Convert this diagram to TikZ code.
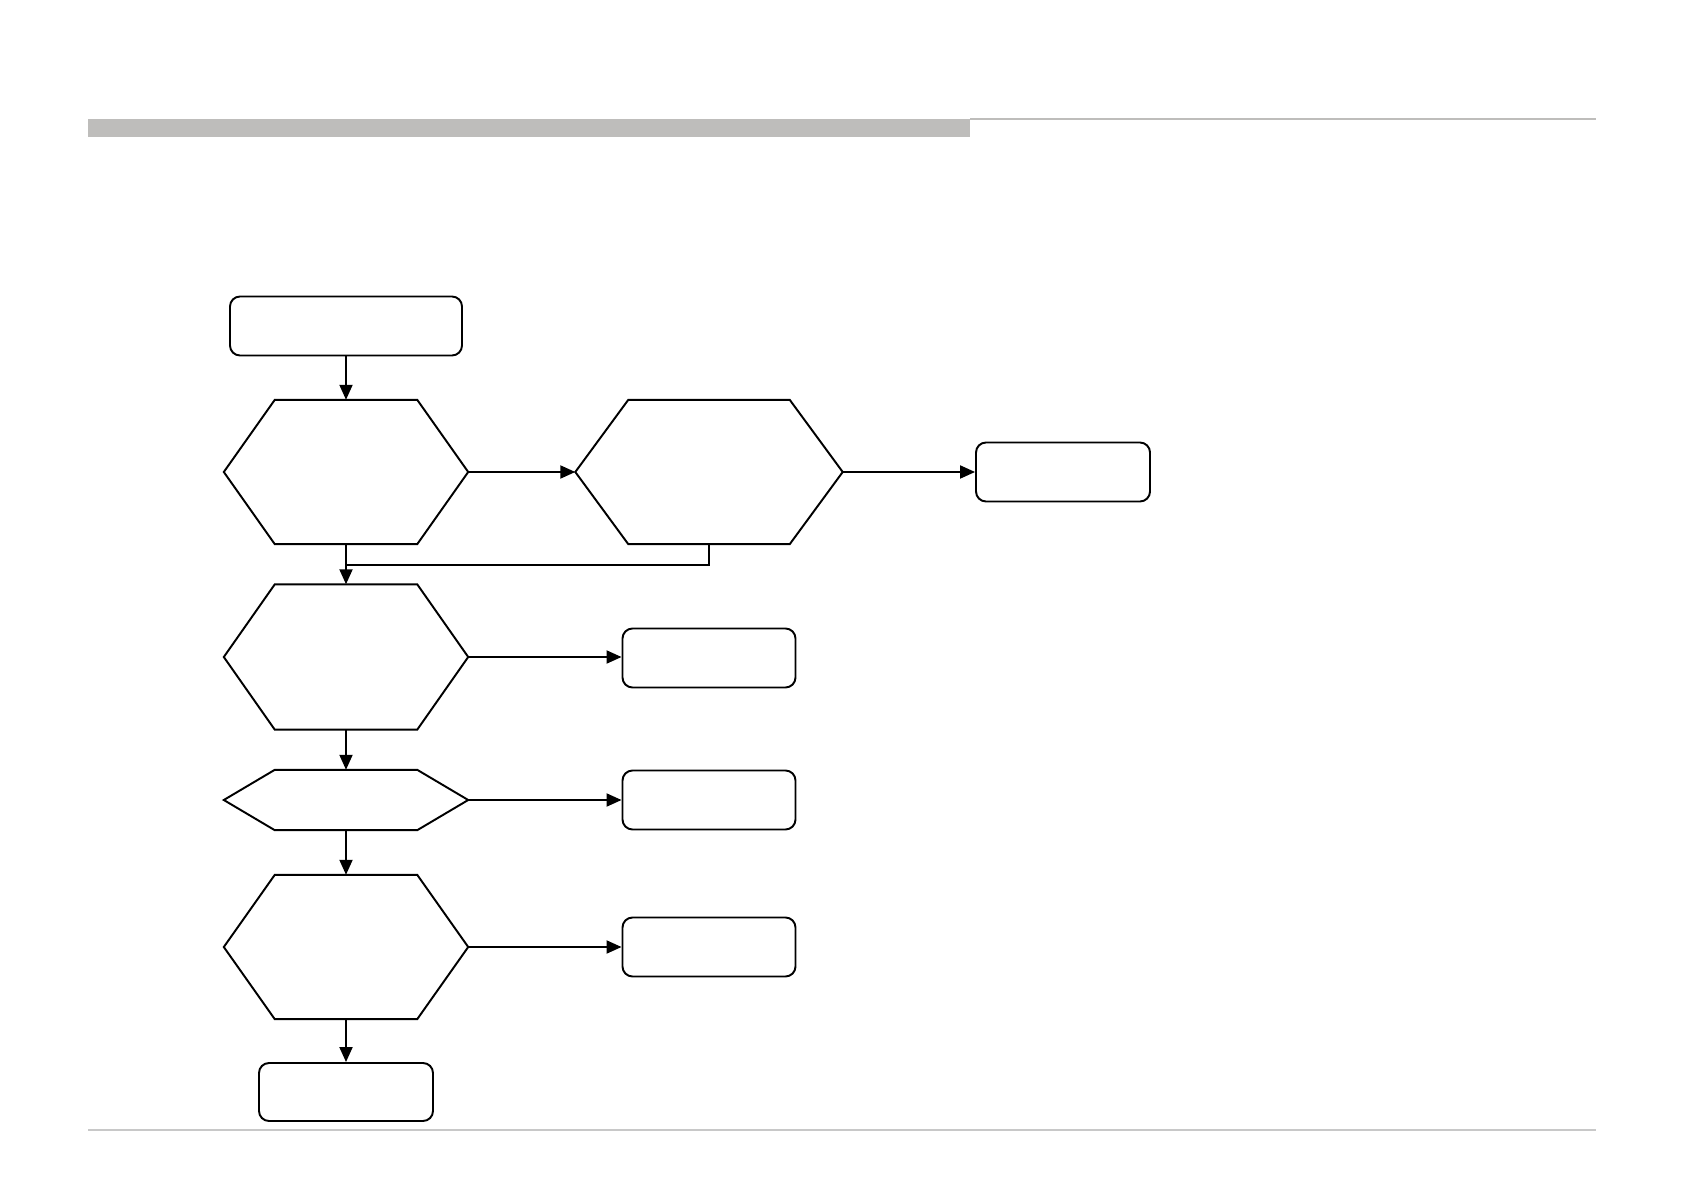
\documentclass[tikz,border=0pt]{standalone}
\usepackage{xcolor}
\usetikzlibrary{arrows.meta,positioning,calc}
\definecolor{bargray}{RGB}{190,189,187}
\definecolor{rulegray}{RGB}{200,200,200}

% outline of a hexagon round a node with no border
\newcommand{\hexout}[2][0.51]{%
  \draw[flowline] ([xshift=#1cm]#2.north west) -- ([xshift=-#1cm]#2.north east)
    -- (#2.east) -- ([xshift=-#1cm]#2.south east)
    -- ([xshift=#1cm]#2.south west) -- (#2.west) -- cycle;}

\tikzset{
  flowline/.style={line width=0.55pt,black},
  stepbox/.style={draw,flowline,rounded corners=1mm,minimum height=0.59cm,
    minimum width=1.74cm,inner sep=0pt},
  hexbox/.style={inner sep=0pt,minimum width=2.43cm,minimum height=1.43cm},
  flowarrow/.style={flowline,-{Triangle[length=1.5mm,width=1.3mm]}}
}

\begin{document}
\begin{tikzpicture}
  \useasboundingbox (0,0) rectangle (16.84,-11.90);

  % page header and footer rules
  \fill[bargray] (0.88,-1.19) rectangle (9.70,-1.37);
  \draw[bargray,line width=0.4pt] (9.70,-1.19) -- (15.96,-1.19);
  \draw[rulegray,line width=0.3pt] (0.88,-11.30) -- (15.96,-11.30);

  % nodes
  \node[stepbox,minimum width=2.32cm] (start) at (3.46,-3.26) {};
  \node[hexbox] (chkA) at (3.46,-4.72) {};
  \node[hexbox,minimum width=2.66cm] (chkB) at (7.09,-4.72) {};
  \node[stepbox] (fixB) at (10.63,-4.72) {};
  \node[hexbox,minimum height=1.44cm] (chkC) at (3.46,-6.57) {};
  \node[stepbox,minimum width=1.73cm] (fixC) at (7.09,-6.58) {};
  \node[hexbox,minimum height=0.59cm] (chkD) at (3.46,-8.00) {};
  \node[stepbox,minimum width=1.73cm] (fixD) at (7.09,-8.00) {};
  \node[hexbox] (chkE) at (3.46,-9.47) {};
  \node[stepbox,minimum width=1.73cm] (fixE) at (7.09,-9.47) {};
  \node[stepbox,minimum height=0.58cm] (done) at (3.46,-10.92) {};
  \coordinate (merge) at (3.46,-5.65);

  \foreach \n in {chkA,chkC,chkD,chkE} {\hexout{\n}}
  \hexout[0.53]{chkB}

  % connectors
  \draw[flowarrow] (start) -- (chkA);
  \draw[flowarrow] (chkA.east) -- (chkB.west);
  \draw[flowarrow] (chkB.east) -- (fixB.west);
  \draw[flowarrow] (chkA.south) -- (chkC.north);
  \draw[flowline] (chkB.south) |- (merge);
  \draw[flowarrow] (chkC.east) -- (chkC.east -| fixC.west);
  \draw[flowarrow] (chkC.south) -- (chkD.north);
  \draw[flowarrow] (chkD.east) -- (fixD.west);
  \draw[flowarrow] (chkD.south) -- (chkE.north);
  \draw[flowarrow] (chkE.east) -- (fixE.west);
  \draw[flowarrow] (chkE.south) -- (done.north);
\end{tikzpicture}
\end{document}
